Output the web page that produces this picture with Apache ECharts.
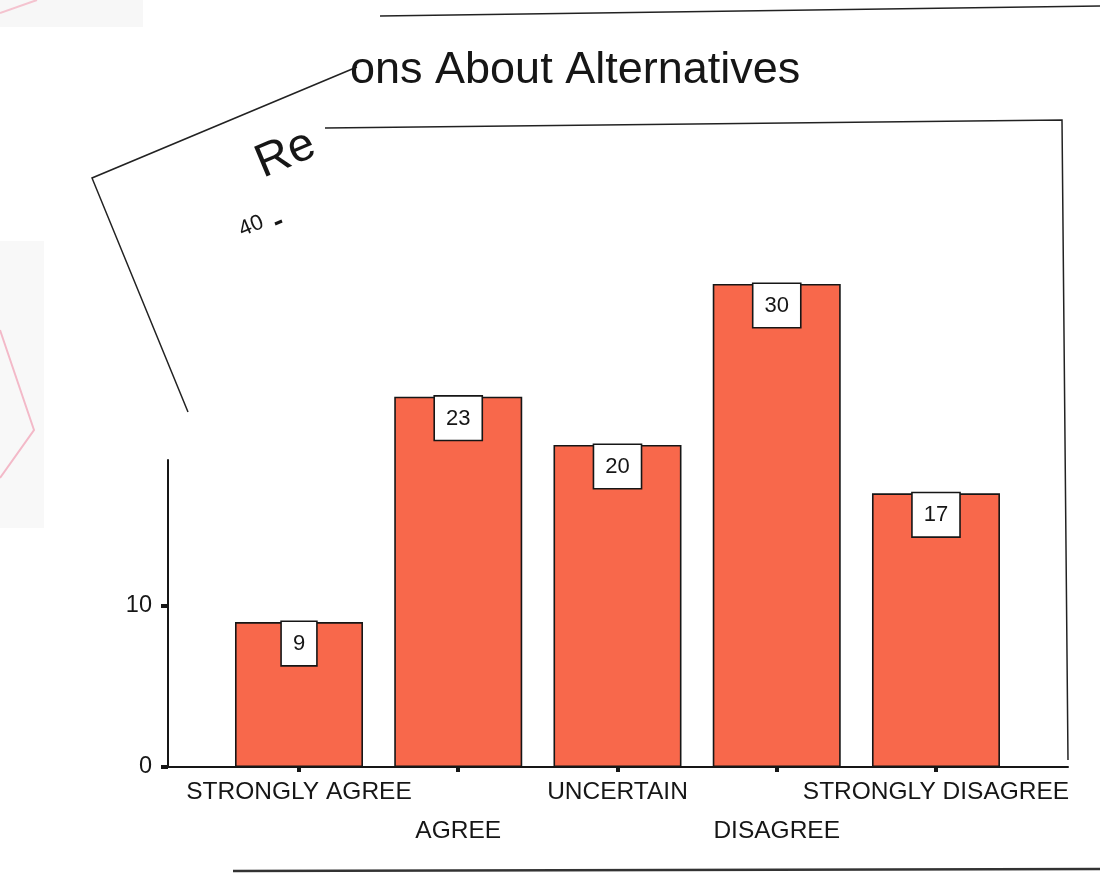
<!DOCTYPE html>
<html>
<head>
<meta charset="utf-8">
<title>Reactions About Alternatives</title>
<script src="https://cdn.jsdelivr.net/npm/echarts@6/dist/echarts.min.js"></script>
<style>
  html, body { margin: 0; padding: 0; background: #ffffff; }
  #chart { width: 1100px; height: 873px; }
</style>
</head>
<body>
<div id="chart"></div>
<script>
// Survey responses
const categories = ['STRONGLY AGREE', 'AGREE', 'UNCERTAIN', 'DISAGREE', 'STRONGLY DISAGREE'];
const counts = [9, 23, 20, 30, 17];
const yTicks = [0, 10];

const FONT = '"Liberation Sans", Arial, Helvetica, sans-serif';
const INK = '#161616';
const BAR_FILL = '#F8684B';

const chart = echarts.init(document.getElementById('chart'), null, { renderer: 'canvas' });

const barData = counts.map((v, i) => [i, v]);
const catIndex = categories.map((_, i) => i);
// category names alternate between an upper and a lower row
const upperRow = catIndex.filter((i) => i % 2 === 0);
const lowerRow = catIndex.filter((i) => i % 2 === 1);

const X_MIN = -0.8226;
const X_MAX = 4.829;

const labelStyle = {
  hideOverlap: false,
  showMinLabel: true,
  showMaxLabel: true,
  fontFamily: FONT,
  fontSize: 24.5,
  color: INK,
  lineHeight: 39,
  formatter: (v) => categories[Math.round(v)] || ''
};

const option = {
  backgroundColor: '#ffffff',
  animation: false,
  grid: { left: 168, right: 32, top: 460, bottom: 106, containLabel: false },
  xAxis: [{
    type: 'value',
    min: X_MIN,
    max: X_MAX,
    splitLine: { show: false },
    axisLine: { show: true, lineStyle: { color: INK, width: 2 } },
    axisTick: {
      show: true,
      customValues: catIndex,
      length: 5,
      lineStyle: { color: INK, width: 4 }
    },
    axisLabel: Object.assign({ customValues: upperRow, margin: 6 }, labelStyle)
  }, {
    type: 'value',
    position: 'bottom',
    min: X_MIN,
    max: X_MAX,
    splitLine: { show: false },
    axisLine: { show: false },
    axisTick: { show: false },
    axisLabel: Object.assign({ customValues: lowerRow, margin: 45 }, labelStyle)
  }],
  yAxis: {
    type: 'value',
    min: 0,
    max: 19.068,
    splitLine: { show: false },
    axisLine: { show: true, onZero: false, lineStyle: { color: INK, width: 2 } },
    axisTick: {
      show: true,
      customValues: yTicks,
      length: 7,
      lineStyle: { color: INK, width: 4 }
    },
    axisLabel: {
      customValues: yTicks,
      margin: 16,
      fontFamily: FONT,
      fontSize: 23.5,
      color: INK
    }
  },
  series: [{
    type: 'bar',
    xAxisIndex: 0,
    data: barData,
    barWidth: 128,
    clip: false,
    itemStyle: { color: BAR_FILL, borderColor: INK, borderWidth: 1.6 },
    label: {
      show: true,
      position: 'insideTop',
      distance: 0,
      formatter: (p) => String(p.value[1]),
      fontFamily: FONT,
      fontSize: 22,
      color: INK,
      backgroundColor: '#ffffff',
      borderColor: INK,
      borderWidth: 1.6,
      padding: [11, 11, 10, 11]
    }
  }],
  graphic: {
    elements: [
      // faint scanned patches along the left edge
      { type: 'rect', z: -10, shape: { x: 0, y: 0, width: 143, height: 27 }, style: { fill: '#f7f7f7' } },
      { type: 'line', z: -9, shape: { x1: 0, y1: 13, x2: 37, y2: 0 }, style: { stroke: '#f4c3cf', lineWidth: 2 } },
      { type: 'rect', z: -10, shape: { x: 0, y: 241, width: 44, height: 287 }, style: { fill: '#f8f8f8' } },
      { type: 'polyline', z: -9, shape: { points: [[0, 330], [34, 430], [0, 478]] }, style: { stroke: '#f3b9c8', lineWidth: 2, fill: null } },

      // page frame lines
      { type: 'line', shape: { x1: 380, y1: 16, x2: 1100, y2: 6 }, style: { stroke: '#222', lineWidth: 1.5 } },
      { type: 'polyline', shape: { points: [[325, 128], [1062, 120], [1068, 760]] }, style: { stroke: '#222', lineWidth: 1.5, fill: null } },
      { type: 'line', shape: { x1: 233, y1: 871, x2: 1100, y2: 869 }, style: { stroke: '#333', lineWidth: 2.5 } },

      // tilted sheet underneath
      { type: 'polyline', shape: { points: [[357, 67], [92, 178], [188, 412]] }, style: { stroke: '#222', lineWidth: 1.5, fill: null } },
      {
        type: 'text', x: 258, y: 166, rotation: 0.396,
        style: { text: 'Re', font: '47px ' + FONT, fill: INK, align: 'left', verticalAlign: 'middle' }
      },
      {
        type: 'text', x: 240, y: 231, rotation: 0.396,
        style: { text: '40', font: '22px ' + FONT, fill: INK, align: 'left', verticalAlign: 'middle' }
      },
      { type: 'line', shape: { x1: 275, y1: 224, x2: 282, y2: 221 }, style: { stroke: INK, lineWidth: 3 } },

      // title
      {
        type: 'text', x: 350, y: 71,
        style: { text: 'ons About Alternatives', font: '45px ' + FONT, fill: INK, align: 'left', verticalAlign: 'middle' }
      }
    ]
  }
};

chart.setOption(option);
</script>
</body>
</html>
